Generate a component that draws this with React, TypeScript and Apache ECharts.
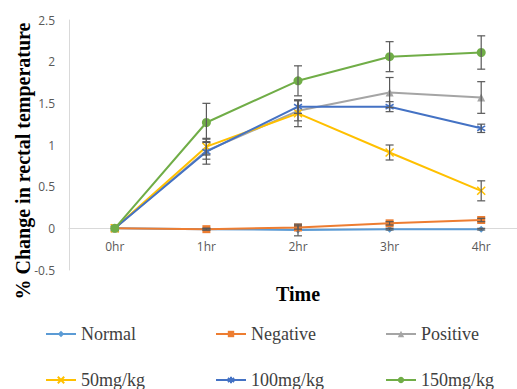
import React, { useEffect, useRef } from "react";
import * as echarts from "echarts";

const categories = ["0hr", "1hr", "2hr", "3hr", "4hr"];
const seriesNames = ["Normal", "Negative", "Positive", "50mg/kg", "100mg/kg", "150mg/kg"];
const normal = [0, -0.01, -0.02, -0.01, -0.01];
const negative = [0, -0.01, 0.01, 0.06, 0.1];
const positive = [0, 0.93, 1.41, 1.63, 1.57];
const mg50 = [0, 0.98, 1.38, 0.91, 0.45];
const mg100 = [0, 0.92, 1.46, 1.46, 1.2];
const mg150 = [0, 1.27, 1.77, 2.06, 2.11];
const errNormal = [0, 0.01, 0.07, 0.01, 0.01];
const errNegative = [0, 0.01, 0.02, 0.02, 0.02];
const errPositive = [0, 0.1, 0.12, 0.18, 0.19];
const err50 = [0, 0.1, 0.16, 0.09, 0.12];
const err100 = [0, 0.15, 0.08, 0.06, 0.05];
const err150 = [0, 0.23, 0.18, 0.18, 0.2];
const yTicks = [-0.5, 0, 0.5, 1, 1.5, 2, 2.5];

const colors = ["#5B9BD5", "#ED7D31", "#A5A5A5", "#FFC000", "#4472C4", "#70AD47"];
const symbols = [
  "diamond",
  "rect",
  "triangle",
  "path://M0,0L10,10M10,0L0,10",
  "path://M5,0L5,10M0,2L10,8M10,2L0,8",
  "circle",
];
const symbolSizes = [7, 8, 8, 8, 8, 9];

export default function App() {
  const ref = useRef<HTMLDivElement>(null);
  useEffect(() => {
    if (!ref.current) return;
    const chart = echarts.init(ref.current, null, { renderer: "svg" });
    const values = [normal, negative, positive, mg50, mg100, mg150];
    const errs = [errNormal, errNegative, errPositive, err50, err100, err150];

    const lineSeries = values.map((vals, i) => ({
      name: seriesNames[i],
      type: "line",
      data: vals,
      symbol: symbols[i],
      symbolSize: symbolSizes[i],
      showSymbol: true,
      lineStyle: { color: colors[i], width: 2 },
      itemStyle: {
        color: colors[i],
        borderColor: colors[i],
        borderWidth: i === 3 || i === 4 ? 1.5 : 0,
      },
      z: 2 + i,
    }));

    const errData: number[][] = [];
    values.forEach((vals, i) => {
      vals.forEach((v, j) => {
        if (errs[i][j] > 0) errData.push([j, v - errs[i][j], v + errs[i][j]]);
      });
    });

    const errSeries = {
      type: "custom",
      name: "err",
      data: errData,
      encode: { x: 0, y: [1, 2] },
      z: 10,
      renderItem: (params: any, api: any) => {
        const x = api.value(0);
        const lo = api.coord([x, api.value(1)]);
        const hi = api.coord([x, api.value(2)]);
        const w = 4;
        const style = { stroke: "#595959", lineWidth: 1.2 };
        return {
          type: "group",
          children: [
            { type: "line", shape: { x1: lo[0], y1: lo[1], x2: hi[0], y2: hi[1] }, style },
            { type: "line", shape: { x1: lo[0] - w, y1: lo[1], x2: lo[0] + w, y2: lo[1] }, style },
            { type: "line", shape: { x1: hi[0] - w, y1: hi[1], x2: hi[0] + w, y2: hi[1] }, style },
          ],
        };
      },
    };

    const legendPos = [
      [45, 325],
      [215, 325],
      [385, 325],
      [45, 371],
      [215, 371],
      [385, 371],
    ];
    const legends = seriesNames.map((n, i) => ({
      data: [n],
      left: legendPos[i][0],
      top: legendPos[i][1],
      padding: 0,
      itemWidth: 30,
      itemHeight: 8,
      itemGap: 0,
      textStyle: { fontFamily: "Liberation Serif", fontSize: 18, color: "#404040" },
    }));

    const gridHeight = 250;
    const zeroOffset = -(gridHeight * (0 - yTicks[0])) / (yTicks[yTicks.length - 1] - yTicks[0]);

    chart.setOption({
      animation: false,
      backgroundColor: "#ffffff",
      grid: {
        left: 69,
        top: 20,
        width: 458,
        height: gridHeight,
        containLabel: false,
        outerBoundsMode: "none",
      },
      legend: legends,
      xAxis: {
        type: "category",
        data: categories,
        boundaryGap: true,
        offset: zeroOffset,
        name: "Time",
        nameLocation: "middle",
        nameGap: 56,
        nameTextStyle: { fontFamily: "Liberation Serif", fontWeight: "bold", fontSize: 20, color: "#000" },
        axisLine: { onZero: false, lineStyle: { color: "#D9D9D9", width: 1 } },
        axisTick: { show: false },
        axisLabel: { fontFamily: "Open Sans", fontSize: 12, color: "#595959", margin: 12 },
      },
      yAxis: {
        type: "value",
        min: yTicks[0],
        max: yTicks[yTicks.length - 1],
        interval: 0.5,
        name: "% Change in rectal temperature",
        nameLocation: "middle",
        nameGap: 36,
        nameMoveOverlap: false,
        nameRotate: 90,
        nameTextStyle: {
          fontFamily: "Liberation Serif",
          fontWeight: "bold",
          fontSize: 20,
          color: "#000",
          padding: [0, 32, 0, 0],
        },
        axisLine: { show: true, lineStyle: { color: "#D9D9D9", width: 1 } },
        axisTick: { show: false },
        splitLine: { show: false },
        axisLabel: { fontFamily: "Open Sans", fontSize: 12, color: "#595959", margin: 14 },
      },
      series: [...lineSeries, errSeries],
    });
    return () => chart.dispose();
  }, []);
  return <div ref={ref} style={{ width: 517, height: 389, position: "absolute", left: 0, top: 0 }} />;
}
